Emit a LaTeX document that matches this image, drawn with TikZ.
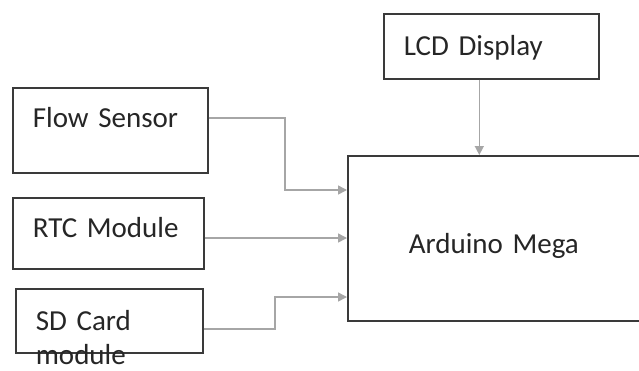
\documentclass[tikz,border=0pt]{standalone}
\usepackage{fontspec}
\setmainfont{Carlito}
\usetikzlibrary{arrows.meta}
\definecolor{boxline}{HTML}{3A3A3A}
\definecolor{wireline}{HTML}{A6A6A6}
\definecolor{inktext}{HTML}{262626}
\tikzstyle{block}=[draw=boxline,line width=1.6pt,anchor=north west,align=left,inner xsep=20pt,inner ysep=0pt,text=inktext,font=\fontsize{29}{34}\selectfont]
\tikzstyle{wire}=[draw=wireline,line width=1.5pt,-{Triangle[length=9pt,width=9pt]}]

\begin{document}
\begin{tikzpicture}[x=1pt,y=-1pt]
  \useasboundingbox (0,0) rectangle (639,370);
  \clip (0,0) rectangle (639,370);
  % blocks
  \node[block,text width=175pt,text height=42pt,text depth=23pt] (lcd) at (383,13) {LCD Display};
  \node[block,text width=155pt,text height=40pt,text depth=45pt] (flow) at (12,87) {Flow Sensor};
  \node[block,text width=151pt,text height=40pt,text depth=31pt] (rtc) at (12,197) {RTC Module};
  \node[block,text width=147pt,text height=42pt,text depth=22pt] (sd) at (15,288) {SD Card\\module};
  \node[block,inner xsep=61pt,text width=250pt,text height=98pt,text depth=67pt] (mega) at (347,155) {Arduino Mega};
  % wires
  \coordinate (flowbend) at (285,190);
  \coordinate (sdbend) at (275,297);
  \draw[wire] ([xshift=-12pt]lcd.south) coordinate (lcdout) -- (lcdout |- mega.north);
  \draw[wire] ([yshift=-31pt]flow.north east) -| (flowbend) -- (flowbend -| mega.west);
  \draw[wire] ([yshift=-41pt]rtc.north east) coordinate (rtcout) -- (rtcout -| mega.west);
  \draw[wire] ([yshift=-41pt]sd.north east) -| (sdbend) -- (sdbend -| mega.west);
\end{tikzpicture}
\end{document}
